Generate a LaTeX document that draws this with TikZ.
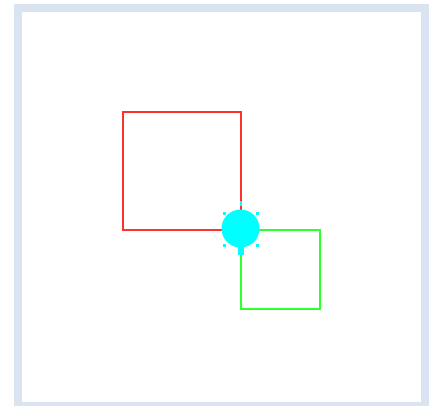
\documentclass[tikz,border=0pt]{standalone}
\begin{document}
\begin{tikzpicture}[x=1pt,y=-1pt,
  frame/.style={draw=framecol,line width=8pt},
  sqr/.style={draw=#1,line width=2pt},
  dotc/.style={fill=cyanc,inner sep=0pt,minimum size=3pt,draw=none}]
\definecolor{framecol}{HTML}{D9E4F0}
\definecolor{redc}{HTML}{FF3030}
\definecolor{greenc}{HTML}{30FF30}
\definecolor{cyanc}{HTML}{00FFFF}
\useasboundingbox (0,0) rectangle (435,405);
\begin{scope}
\clip (0,0) rectangle (435,405);
\draw[frame] (18,8) rectangle (424.5,406);
\end{scope}
\coordinate (c) at (241,230);
\draw[sqr=redc] (122.5,111.5) rectangle (c);
\draw[sqr=greenc] (c) rectangle (319.5,308.5);
\fill[cyanc] (240.5,228.5) circle (19);
\fill[cyanc] (237.5,244) rectangle (243.5,255);
\fill[cyanc] (239.5,201) rectangle (241.5,206);
\node[dotc] (d1) at (224,213) {};
\node[dotc] (d2) at (257,213) {};
\node[dotc] (d3) at (224,245) {};
\node[dotc] (d4) at (257,245) {};
\end{tikzpicture}
\end{document}
